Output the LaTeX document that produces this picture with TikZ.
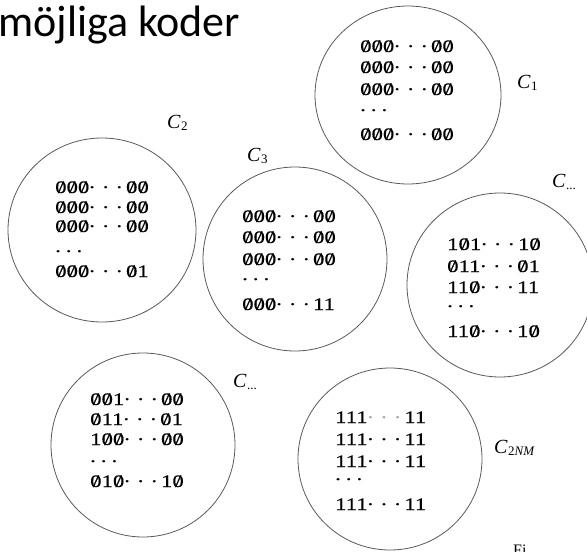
\documentclass[tikz,border=0pt]{standalone}
\usepackage{fontspec}
\setmainfont{Liberation Serif}
\newfontfamily\titlefont{Carlito}
\newfontfamily\codefont[FakeStretch=1.3,FakeBold=0.4]{Liberation Serif}

% slashed zero, centred dots and baseline dots for the code words
\newcommand\Z{\ooalign{0\cr\hidewidth\smash{/}\hidewidth\cr}}
\newcommand\cds{\kern-1pt·\kern6pt·\kern6pt·\kern3pt}
\newcommand\lds{.\kern5pt.\kern5pt.}
% class label C with a lowered index
\newcommand\clab[1]{\textit{C}\kern0.5pt\raisebox{-2pt}{\fontsize{13}{13}\selectfont #1}}

\tikzset{
  ring/.style={draw=black!65, line width=0.8pt},
  code/.style={anchor=base west, inner sep=0pt, font=\codefont\fontsize{17.5}{17.5}\selectfont},
  clabel/.style={anchor=base west, inner sep=0pt, font=\fontsize{20}{20}\selectfont},
}

\begin{document}
\begin{tikzpicture}[x=1pt, y=-1pt]
\useasboundingbox (0,0) rectangle (587,552);

% title
\node[anchor=base west, inner sep=0pt, font=\titlefont\fontsize{44}{44}\selectfont] (title) at (-2,36) {möjliga koder};

% code classes
\draw[ring] (408,95)  ellipse [x radius=93pt, y radius=89pt];
\draw[ring] (102,230) ellipse [x radius=94pt, y radius=92pt];
\draw[ring] (295,259) ellipse [x radius=92pt, y radius=92pt];
\draw[ring] (500,285) ellipse [x radius=93pt, y radius=92pt];
\draw[ring] (143,445) ellipse [x radius=92pt, y radius=92pt];
\draw[ring] (390,459) ellipse [x radius=92pt, y radius=91pt];

% labels
\node[clabel] (l1)  at (517,88)  {\clab{1}};
\node[clabel] (l2)  at (167,128) {\clab{2}};
\node[clabel] (l3)  at (247,161) {\clab{3}};
\node[clabel] (lr)  at (552,187) {\clab{...}};
\node[clabel] (lb)  at (233,387) {\clab{...}};
\node[clabel] (ln)  at (494,453) {\clab{2\textit{NM}}};

% C_1
\node[code] (a1) at (360,52)  {\Z\Z\Z\cds\Z\Z};
\node[code] (a2) at (360,73)  {\Z\Z\Z\cds\Z\Z};
\node[code] (a3) at (360,95)  {\Z\Z\Z\cds\Z\Z};
\node[code] (a4) at (360,111) {\lds};
\node[code] (a5) at (360,140) {\Z\Z\Z\cds\Z\Z};

% C_2
\node[code] (b1) at (55,193) {\Z\Z\Z\cds\Z\Z};
\node[code] (b2) at (55,213) {\Z\Z\Z\cds\Z\Z};
\node[code] (b3) at (55,232) {\Z\Z\Z\cds\Z\Z};
\node[code] (b4) at (55,252) {\lds};
\node[code] (b5) at (55,277) {\Z\Z\Z\cds\Z1};

% C_3
\node[code] (c1) at (242,222) {\Z\Z\Z\cds\Z\Z};
\node[code] (c2) at (242,243) {\Z\Z\Z\cds\Z\Z};
\node[code] (c3) at (242,265) {\Z\Z\Z\cds\Z\Z};
\node[code] (c4) at (242,280) {\lds};
\node[code] (c5) at (242,310) {\Z\Z\Z\cds 11};

% right class
\node[code] (d1) at (447,250) {1\Z1\cds 1\Z};
\node[code] (d2) at (447,272) {\Z11\cds\Z1};
\node[code] (d3) at (447,293) {11\Z\cds 11};
\node[code] (d4) at (447,307) {\lds};
\node[code] (d5) at (447,337) {11\Z\cds 1\Z};

% lower left class
\node[code] (e1) at (90,405) {\Z\Z1\cds\Z\Z};
\node[code] (e2) at (90,425) {\Z11\cds\Z1};
\node[code] (e3) at (90,445) {1\Z\Z\cds\Z\Z};
\node[code] (e4) at (90,462) {\lds};
\node[code] (e5) at (90,487) {\Z1\Z\cds 1\Z};

% C_{2NM}
\node[code] (f1) at (335,423) {111{\color{black!35}\cds}11};
\node[code] (f2) at (335,445) {111\cds 11};
\node[code] (f3) at (335,467) {111\cds 11};
\node[code] (f4) at (335,480) {\lds};
\node[code] (f5) at (335,510) {111\cds 11};

% caption start at the lower edge
\node[anchor=north west, inner sep=0pt, font=\fontsize{16}{16}\selectfont] (cap) at (513,545) {Fi};
\end{tikzpicture}
\end{document}
